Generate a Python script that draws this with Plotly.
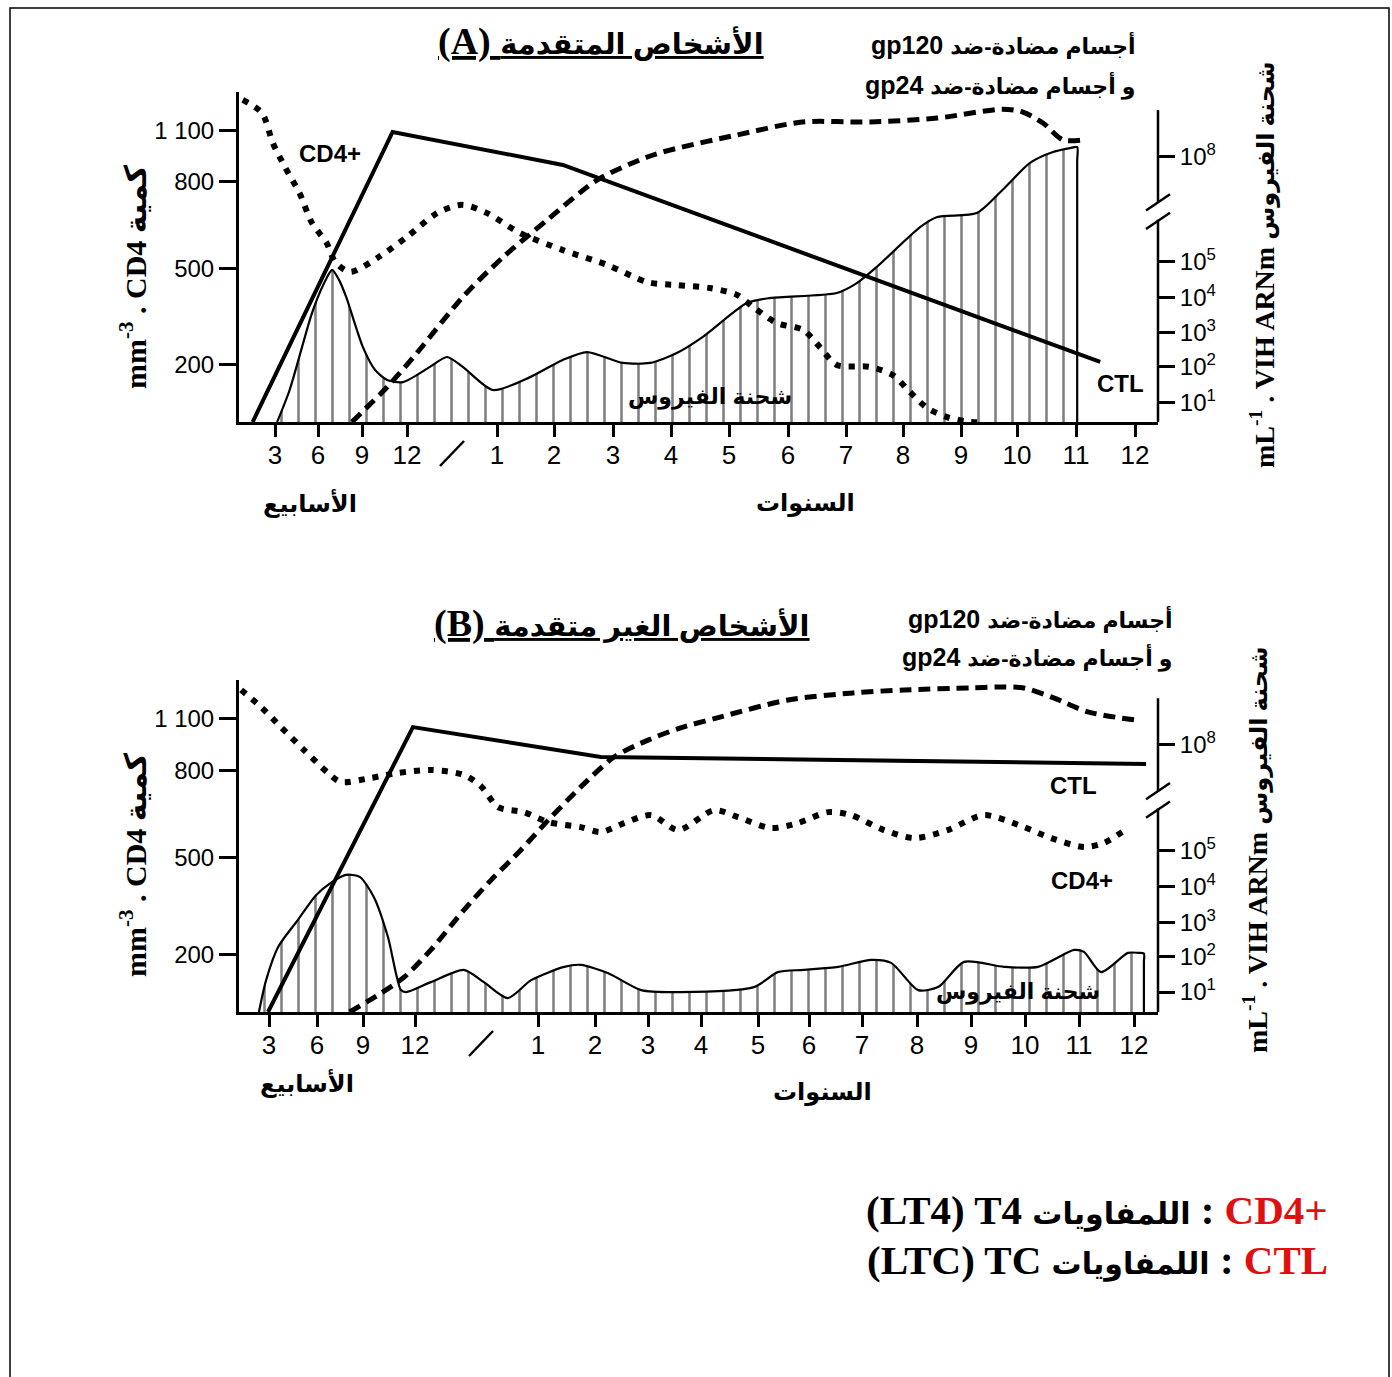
import numpy as np
import plotly.graph_objects as go

W, H = 1392, 1377

# ---------------- axis labels ----------------
X_LABELS = ["3", "6", "9", "12", "//", "1", "2", "3", "4", "5", "6", "7", "8", "9", "10", "11", "12"]
CD4_LABELS = ["200", "500", "800", "1 100"]
VL_LABELS = ["10<sup>1</sup>", "10<sup>2</sup>", "10<sup>3</sup>", "10<sup>4</sup>", "10<sup>5</sup>", "10<sup>8</sup>"]

# relative levels (0-100 scale of the schematic) where each label sits
CD4_LEVELS = [17.4, 46.4, 72.8, 88.3]
VL_LEVELS = [6.0, 16.8, 27.0, 37.8, 48.6, 80.5]

# ---------------- data: panel A (x = time slot index, y = relative level) ----------------
A_CD4_X = [-0.75, -0.30, -0.05, 0.23, 0.57, 0.86, 1.2, 1.39, 1.73, 2.34, 3.0, 3.67, 4.22, 4.78, 5.40, 6.15,
           6.9, 7.59, 8.10, 8.67, 9.14, 9.41, 9.81, 10.26, 10.55, 10.84, 11.42, 11.82, 12.12, 12.42, 12.76, 13.16, 13.38]
A_CD4_Y = [97.6, 93.6, 84.5, 77.3, 69.4, 60.3, 54.2, 48.5, 45.5, 49.7, 56.1, 63.3, 65.8, 63.3, 57.3, 52.1,
           47.6, 42.4, 41.5, 40.6, 38.5, 34.8, 30.0, 27.9, 22.7, 17.3, 16.7, 14.2, 9.1, 4.2, 1.5, 0.0, 0.0]

A_CTL_X = [-0.52, 2.68, 6.15, 15.41]
A_CTL_Y = [0.0, 87.9, 77.9, 18.2]

A_AB_X = [1.77, 2.56, 3.22, 4.24, 5.11, 5.88, 6.73, 7.59, 7.98, 9.14, 10.25, 11.42, 12.59, 13.74, 14.10,
          14.44, 14.78, 15.12]
A_AB_Y = [0.0, 10.6, 20.9, 37.9, 50.0, 61.2, 73.3, 80.3, 82.4, 87.0, 90.9, 90.9, 92.1, 94.8, 93.9,
          90.6, 85.5, 85.5]

A_VL_X = [0.05, 0.34, 0.86, 1.14, 1.32, 1.48, 1.64, 2.02, 2.29, 2.56, 2.91, 3.51, 3.89, 4.24, 4.91, 5.58,
          6.15, 6.56, 7.17, 7.64, 8.10, 8.55, 9.31, 9.71, 10.84, 11.19, 11.54, 12.30, 12.59, 13.28, 13.74,
          14.22, 14.61, 14.90, 15.02, 15.02, 15.02]
A_VL_Y = [0.0, 9.7, 33.0, 42.1, 46.1, 43.0, 37.9, 22.7, 15.8, 12.7, 12.1, 16.7, 19.7, 16.7, 9.7, 13.6,
          18.8, 21.2, 17.9, 17.9, 20.9, 25.8, 36.1, 37.6, 39.1, 42.1, 47.0, 59.1, 62.1, 63.3, 70.3,
          78.5, 81.8, 83.0, 83.3, 79.0, 0.0]

# ---------------- data: panel B ----------------
B_CD4_X = [-0.58, -0.17, 0.25, 0.73, 1.24, 1.52, 2.15, 2.67, 3.24, 3.74, 4.0, 4.30, 4.75, 5.18, 5.75,
           6.11, 6.55, 7.06, 7.57, 8.23, 8.65, 9.25, 9.78, 10.36, 10.79, 11.40, 11.95, 12.57, 13.24, 13.98,
           14.48, 15.09, 15.45, 15.89]
B_CD4_Y = [97.0, 91.9, 85.8, 78.9, 72.0, 69.3, 70.5, 72.0, 72.9, 71.4, 68.0, 61.7, 60.2, 57.2, 55.7,
           54.2, 56.9, 59.3, 54.8, 60.8, 58.7, 55.4, 56.9, 60.2, 59.3, 54.8, 52.4, 54.8, 59.3, 55.7,
           52.4, 49.7, 50.9, 55.4]

B_CTL_X = [-0.02, 2.96, 6.11, 16.22]
B_CTL_Y = [0.0, 85.8, 76.8, 74.7]

B_AB_X = [1.71, 2.35, 2.79, 3.24, 3.74, 4.18, 4.70, 5.18, 5.75, 6.36, 7.0, 7.60, 8.35, 9.59, 10.83, 11.76,
          13.0, 13.61, 13.98, 14.53, 15.16, 16.0]
B_AB_Y = [0.0, 5.7, 10.5, 18.7, 30.7, 39.8, 48.8, 57.8, 67.8, 76.8, 81.9, 85.5, 88.9, 94.0, 96.1, 97.0,
          97.6, 97.9, 97.6, 94.6, 90.4, 88.0]

B_VL_X = [-0.21, -0.06, 0.19, 0.60, 0.98, 1.30, 1.63, 1.93, 2.21, 2.48, 2.73, 2.83, 3.24, 3.74, 4.05, 4.47,
          4.88, 5.46, 5.75, 6.25, 6.87, 7.60, 8.93, 9.39, 9.90, 10.55, 11.17, 11.53, 12.02, 12.39, 12.87,
          13.61, 14.24, 14.91, 15.09, 15.40, 15.89, 16.08, 16.18, 16.18, 16.18]
B_VL_Y = [0.0, 9.6, 19.6, 27.7, 35.2, 38.9, 41.3, 40.7, 34.6, 22.6, 6.6, 6.0, 9.0, 12.7, 9.0, 4.2,
          9.6, 13.6, 14.2, 11.7, 6.6, 6.0, 7.5, 12.0, 12.7, 13.6, 15.7, 14.8, 6.6, 7.5, 15.1,
          13.6, 13.6, 18.7, 18.1, 12.0, 17.8, 17.8, 17.6, 15.0, 0.0]

# ---------------- layout geometry (styles, not data) ----------------
TICK_POS_A = [36, 79, 123, 168, 213, 258, 315, 374, 432, 490, 549, 607, 664, 722, 778, 837, 896]
TICK_POS_B = [30, 78, 124, 176, 242, 299, 356, 409, 462, 519, 570, 623, 678, 732, 786, 840, 895]
X_RANGE = [0, 919]
X_DOM = [239 / W, 1158 / W]
Y_DOM_A = [1 - 422 / H, 1 - 92 / H]
Y_DOM_B = [1 - 1012 / H, 1 - 680 / H]
BREAK_IDX = 4


def slot_to_pos(idx, tick_pos):
    tp = np.asarray(tick_pos, float)
    ext_i = np.arange(-1, len(tp) + 1)
    ext_p = np.concatenate([[2 * tp[0] - tp[1]], tp, [2 * tp[-1] - tp[-2]]])
    return np.interp(np.asarray(idx, float), ext_i, ext_p)


fig = go.Figure()


def add_panel(xa, ya, tick_pos, cd4x, cd4y, ctlx, ctly, abx, aby, vlx, vly):
    fig.add_trace(go.Scatter(
        x=slot_to_pos(vlx, tick_pos), y=vly, xaxis=xa, yaxis=ya, mode="lines",
        line=dict(color="black", width=2.2, shape="spline", smoothing=0.7),
        fill="tozeroy", fillcolor="rgba(0,0,0,0)",
        fillpattern=dict(shape="|", size=17, solidity=0.15, fgcolor="black", bgcolor="rgba(0,0,0,0)"),
        hoverinfo="skip"))
    fig.add_trace(go.Scatter(
        x=slot_to_pos(abx, tick_pos), y=aby, xaxis=xa, yaxis=ya, mode="lines",
        line=dict(color="black", width=5, dash="12px,7px", shape="spline", smoothing=0.8),
        hoverinfo="skip"))
    fig.add_trace(go.Scatter(
        x=slot_to_pos(cd4x, tick_pos), y=cd4y, xaxis=xa, yaxis=ya, mode="lines",
        line=dict(color="black", width=6, dash="6px,8px", shape="spline", smoothing=0.8),
        hoverinfo="skip"))
    fig.add_trace(go.Scatter(
        x=slot_to_pos(ctlx, tick_pos), y=ctly, xaxis=xa, yaxis=ya, mode="lines",
        line=dict(color="black", width=4), hoverinfo="skip"))


add_panel("x", "y", TICK_POS_A, A_CD4_X, A_CD4_Y, A_CTL_X, A_CTL_Y, A_AB_X, A_AB_Y, A_VL_X, A_VL_Y)
add_panel("x2", "y2", TICK_POS_B, B_CD4_X, B_CD4_Y, B_CTL_X, B_CTL_Y, B_AB_X, B_AB_Y, B_VL_X, B_VL_Y)
# dummy traces so that the right-hand axes exist
fig.add_trace(go.Scatter(x=[None], y=[None], xaxis="x", yaxis="y3", showlegend=False))
fig.add_trace(go.Scatter(x=[None], y=[None], xaxis="x2", yaxis="y4", showlegend=False))

tick_font = dict(family="Liberation Sans, Arial, sans-serif", size=26, color="black")
ytick_font = dict(family="Liberation Sans, Arial, sans-serif", size=24, color="black")


def xaxis_cfg(tick_pos, ydom_anchor):
    tv = [p for i, p in enumerate(tick_pos) if i != BREAK_IDX]
    tt = [t for i, t in enumerate(X_LABELS) if i != BREAK_IDX]
    return dict(domain=X_DOM, range=X_RANGE, anchor=ydom_anchor, tickmode="array", tickvals=tv, ticktext=tt,
                ticks="outside", ticklen=12, tickwidth=2.5, tickcolor="black", showline=True, linewidth=3,
                linecolor="black", showgrid=False, zeroline=False, tickfont=tick_font, fixedrange=True,
                ticklabelstandoff=-4)


def yaxis_cfg(dom, anchor):
    return dict(domain=dom, range=[0, 100], anchor=anchor, tickmode="array", tickvals=CD4_LEVELS,
                ticktext=CD4_LABELS, ticks="outside", ticklen=17, tickwidth=2.5, tickcolor="black",
                showline=True, linewidth=3, linecolor="black", showgrid=False, zeroline=False,
                tickfont=ytick_font, fixedrange=True)


def yaxis_right_cfg(over, anchor):
    return dict(overlaying=over, side="right", anchor=anchor, range=[0, 100], tickmode="array",
                tickvals=VL_LEVELS, ticktext=VL_LABELS, ticks="outside", ticklen=16, tickwidth=2.5,
                tickcolor="black", showline=False, showgrid=False, zeroline=False, tickfont=ytick_font,
                fixedrange=True)


fig.update_layout(
    width=W, height=H, margin=dict(l=0, r=0, t=0, b=0),
    paper_bgcolor="white", plot_bgcolor="rgba(0,0,0,0)", showlegend=False,
    xaxis=xaxis_cfg(TICK_POS_A, "y"), yaxis=yaxis_cfg(Y_DOM_A, "x"),
    xaxis2=xaxis_cfg(TICK_POS_B, "y2"), yaxis2=yaxis_cfg(Y_DOM_B, "x2"),
    yaxis3=yaxis_right_cfg("y", "x"), yaxis4=yaxis_right_cfg("y2", "x2"),
)

shapes = []
# frame
shapes.append(dict(type="rect", xref="paper", yref="paper", x0=10 / W, x1=1389 / W, y0=-0.05, y1=1 - 8 / H,
                   line=dict(color="black", width=1.5)))


def ypap(dom, v):
    return dom[0] + v / 100.0 * (dom[1] - dom[0])


for dom, tick_pos in ((Y_DOM_A, TICK_POS_A), (Y_DOM_B, TICK_POS_B)):
    xr = X_DOM[1]
    # right axis with break
    shapes.append(dict(type="line", xref="paper", yref="paper", x0=xr, x1=xr, y0=ypap(dom, 0),
                       y1=ypap(dom, 61.3), line=dict(color="black", width=2.5)))
    shapes.append(dict(type="line", xref="paper", yref="paper", x0=xr, x1=xr, y0=ypap(dom, 66.4),
                       y1=ypap(dom, 94.5), line=dict(color="black", width=2.5)))
    for lo, hi in ((58.5, 63.4), (64.1, 69.0)):
        shapes.append(dict(type="line", xref="paper", yref="paper", x0=xr - 12 / W, x1=xr + 12 / W,
                           y0=ypap(dom, lo), y1=ypap(dom, hi), line=dict(color="black", width=2.5)))
    # x-axis break mark
    xb = X_DOM[0] + tick_pos[BREAK_IDX] / X_RANGE[1] * (X_DOM[1] - X_DOM[0])
    shapes.append(dict(type="line", xref="paper", yref="paper", x0=xb - 12 / W, x1=xb + 12 / W,
                       y0=dom[0] - 44 / H, y1=dom[0] - 19 / H, line=dict(color="black", width=2.5)))

fig.update_layout(shapes=shapes)

ARAB_SANS = "Liberation Sans, DejaVu Sans, Arial, sans-serif"
ARAB_SERIF = "Liberation Serif, DejaVu Sans, Times New Roman, serif"


def ar(text, size):
    return "<span style='font-size:%dpx'>%s</span>" % (size, text)


def ann(text, px, py, size, family=ARAB_SANS, xanchor="center", angle=0, color="black"):
    return dict(text=text, x=px / W, y=1 - py / H, xref="paper", yref="paper", xanchor=xanchor,
                yanchor="middle", showarrow=False, textangle=angle,
                font=dict(family=family, size=size, color=color))


anns = [
    # panel A
    ann("<b><u>(A) " + ar("الأشخاص المتقدمة", 29) + "</u></b>", 601, 42, 38, ARAB_SERIF),
    ann("<b>gp120 " + ar("أجسام مضادة-ضد", 22) + "</b>", 1138, 45, 25, xanchor="right"),
    ann("<b>gp24 " + ar("و أجسام مضادة-ضد", 22) + "</b>", 1138, 86, 25, xanchor="right"),
    ann("<b>CD4+</b>", 330, 153, 24),
    ann("<b>CTL</b>", 1120, 383, 24),
    ann("<b>شحنة الفيروس</b>", 710, 397, 22),
    ann("<b>الأسابيع</b>", 310, 503, 24),
    ann("<b>السنوات</b>", 805, 503, 24),
    ann("<b>mm<sup>-3</sup> . CD4 كمية</b>", 133, 277, 30, ARAB_SERIF, angle=-90),
    ann("<b>mL<sup>-1</sup> . VIH ARNm " + ar("شحنة الفيروس", 24) + "</b>", 1262, 265, 28, ARAB_SERIF, angle=-90),
    # panel B
    ann("<b><u>(B) " + ar("الأشخاص الغير متقدمة", 29) + "</u></b>", 622, 623, 38, ARAB_SERIF),
    ann("<b>gp120 " + ar("أجسام مضادة-ضد", 22) + "</b>", 1175, 619, 25, xanchor="right"),
    ann("<b>gp24 " + ar("و أجسام مضادة-ضد", 22) + "</b>", 1175, 657, 25, xanchor="right"),
    ann("<b>CTL</b>", 1073, 785, 24),
    ann("<b>CD4+</b>", 1082, 880, 24),
    ann("<b>شحنة الفيروس</b>", 1018, 992, 22),
    ann("<b>الأسابيع</b>", 307, 1083, 24),
    ann("<b>السنوات</b>", 822, 1092, 24),
    ann("<b>mm<sup>-3</sup> . CD4 كمية</b>", 133, 865, 30, ARAB_SERIF, angle=-90),
    ann("<b>mL<sup>-1</sup> . VIH ARNm " + ar("شحنة الفيروس", 24) + "</b>", 1255, 850, 28, ARAB_SERIF, angle=-90),
    # key
    ann("<b>(LT4) T4 " + ar("اللمفاويات", 30) + " : <span style='color:#e01010'>CD4+</span></b>", 1330, 1210, 41,
        ARAB_SERIF, xanchor="right"),
    ann("<b>(LTC) TC " + ar("اللمفاويات", 30) + " : <span style='color:#e01010'>CTL</span></b>", 1330, 1260, 41,
        ARAB_SERIF, xanchor="right"),
]
fig.update_layout(annotations=anns)

fig.write_html("out.html")
